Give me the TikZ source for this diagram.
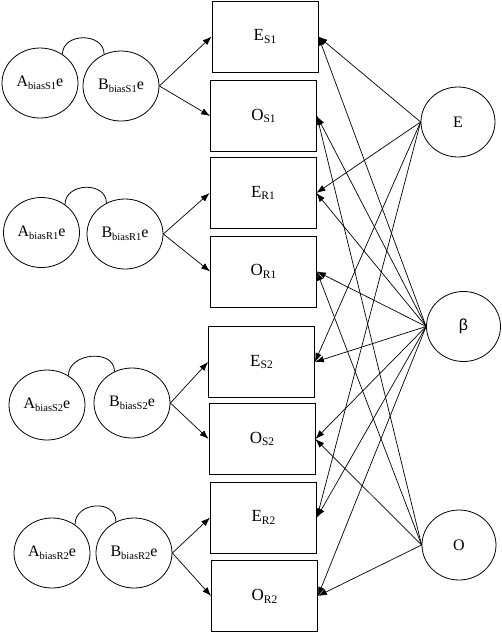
\documentclass[tikz,border=0pt]{standalone}
\usepackage{fontspec}
\setmainfont{Liberation Serif}
\newfontfamily\betafont{Liberation Sans}
\usetikzlibrary{shapes.geometric,arrows.meta}
\newcommand{\lsub}[1]{\raisebox{-0.35ex}{\fontsize{10.5}{11}\selectfont #1}}
\newcommand{\bsub}[1]{\raisebox{-0.35ex}{\fontsize{11.5}{12}\selectfont #1}}
\begin{document}
\begin{tikzpicture}[x=1pt,y=-1pt,
 lat/.style={draw,ellipse,minimum width=76pt,minimum height=70pt,inner sep=0pt,line width=0.8pt,font=\fontsize{16}{16}\selectfont},
 obs/.style={draw,rectangle,minimum width=106pt,minimum height=71pt,inner sep=0pt,line width=0.8pt,font=\fontsize{17}{17}\selectfont},
 arr/.style={-{Latex[length=9pt,width=6.5pt]},line width=0.7pt},
 cov/.style={line width=0.8pt}]
\useasboundingbox (0,0) rectangle (502,633);
% left latent pairs
\node[lat] (A1) at (40,83) {A\lsub{biasS1}e};
\node[lat] (B1) at (121,86) {B\lsub{biasS1}e};
\node[lat] (A2) at (41.5,232.5) {A\lsub{biasR1}e};
\node[lat] (B2) at (125,234) {B\lsub{biasR1}e};
\node[lat] (A3) at (47,405) {A\lsub{biasS2}e};
\node[lat] (B3) at (132,403) {B\lsub{biasS2}e};
\node[lat] (A4) at (52,553) {A\lsub{biasR2}e};
\node[lat] (B4) at (134,553) {B\lsub{biasR2}e};
% boxes
\node[obs] (ES1) at (265,36.5) {E\bsub{S1}};
\node[obs] (OS1) at (263.5,116) {O\bsub{S1}};
\node[obs] (ER1) at (263,193) {E\bsub{R1}};
\node[obs] (OR1) at (263.5,271.5) {O\bsub{R1}};
\node[obs] (ES2) at (261.5,362) {E\bsub{S2}};
\node[obs] (OS2) at (262,439) {O\bsub{S2}};
\node[obs] (ER2) at (263.5,517.5) {E\bsub{R2}};
\node[obs] (OR2) at (264.5,596) {O\bsub{R2}};
% right latents
\node[lat,minimum width=74pt] (E) at (458,122) {E};
\node[lat,minimum width=74pt,font=\fontsize{16}{16}\betafont] (beta) at (463.5,326.5) {β};
\node[lat,minimum width=74pt] (O) at (459,545) {O};
% covariance arcs
\draw[cov] (A1.52) .. controls +(0,-22) and +(0,-22) .. (B1.118);
\draw[cov] (A2.50) .. controls +(0,-22) and +(0,-22) .. (B2.121);
\draw[cov] (A3.54) .. controls +(0,-23) and +(0,-23) .. (B3.119);
\draw[cov] (A4.51) .. controls +(0,-23) and +(0,-23) .. (B4.120);
% left arrows
\draw[arr] (B1.east) -- (ES1.west);
\draw[arr] (B1.east) -- (OS1.west);
\draw[arr] (B2.east) -- (ER1.west);
\draw[arr] (B2.east) -- (OR1.west);
\draw[arr] (B3.east) -- (ES2.west);
\draw[arr] (B3.east) -- (OS2.west);
\draw[arr] (B4.east) -- (ER2.west);
\draw[arr] (B4.east) -- (OR2.west);
% right arrows
\foreach \t in {ES1,ER1,ES2,ER2} \draw[arr] (E.west) -- (\t.east);
\foreach \t in {OS1,OR1,OS2,OR2} \draw[arr] (O.west) -- (\t.east);
\foreach \t in {ES1,OS1,ER1,OR1,ES2,OS2,ER2,OR2} \draw[arr] (beta.west) -- (\t.east);
\end{tikzpicture}
\end{document}
